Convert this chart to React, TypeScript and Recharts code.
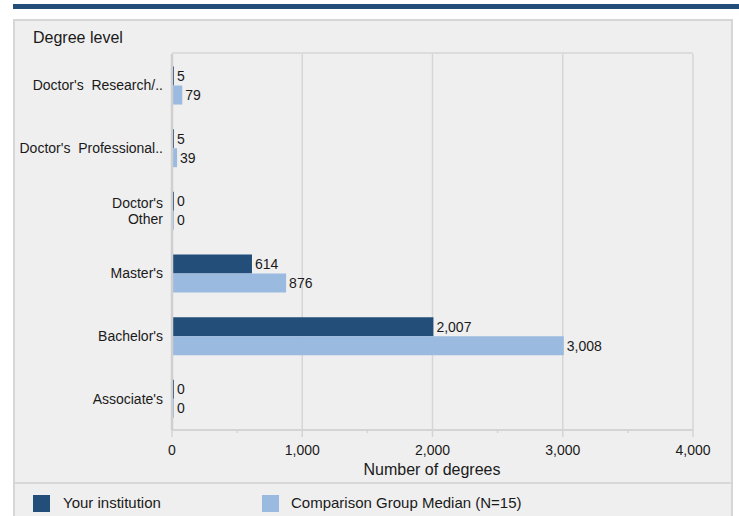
import React from "react";
import { BarChart, Bar, XAxis, YAxis, CartesianGrid, LabelList } from "recharts";

const categories = [
  "Doctor's  Research/..",
  "Doctor's  Professional..",
  "Doctor's\nOther",
  "Master's",
  "Bachelor's",
  "Associate's",
];
const yourInstitution = [5, 5, 0, 614, 2007, 0];
const comparisonMedian = [79, 39, 0, 876, 3008, 0];
const xTicks = [0, 500, 1000, 1500, 2000, 2500, 3000, 3500, 4000];
const majorTicks = [0, 1000, 2000, 3000, 4000];

const data = categories.map((c, i) => ({
  name: c,
  yours: yourInstitution[i],
  comp: comparisonMedian[i],
}));

const DARK = "#234e7a";
const LIGHT = "#9bbadf";
const FONT = "'Liberation Sans', Arial, sans-serif";
const TEXT = "#1a1a1a";

const fmt = (v: any) => Number(v).toLocaleString("en-US");

const YTick = (props: any) => {
  const { x, y, payload } = props;
  const lines = String(payload.value).split("\n");
  const lh = 16;
  const start = -((lines.length - 1) * lh) / 2;
  return (
    <text x={x - 9} y={y} textAnchor="end" fontSize={14} fill={TEXT} fontFamily={FONT} style={{ whiteSpace: "pre" }}>
      {lines.map((l, i) => (
        <tspan key={i} x={x - 9} y={y + start + i * lh} dy="0.35em">
          {l}
        </tspan>
      ))}
    </text>
  );
};

const XTick = (props: any) => {
  const { x, y, payload } = props;
  const major = payload.value % 1000 === 0;
  return (
    <g>
      <line x1={x} x2={x} y1={y} y2={y + (major ? 7 : 3)} stroke="#d4d4d4" strokeWidth={1.5} />
      {major && (
        <text x={x} y={y + 20} dy="0.35em" textAnchor="middle" fontSize={14} fill={TEXT} fontFamily={FONT}>
          {fmt(payload.value)}
        </text>
      )}
    </g>
  );
};

export default function App() {
  return (
    <div style={{ position: "fixed", left: 0, top: 0, width: 739, height: 516, background: "#fff", overflow: "hidden", fontFamily: FONT }}>
      <div style={{ position: "absolute", left: 13, top: 4, width: 726, height: 5, background: DARK }} />
      <div
        style={{
          position: "absolute",
          left: 13,
          top: 19,
          width: 716,
          height: 520,
          background: "#efefef",
          borderLeft: "2px solid #d6d6d6",
          borderTop: "2px solid #d6d6d6",
          borderRight: "2px solid #d6d6d6",
        }}
      />
      <div style={{ position: "absolute", left: 33, top: 28, fontSize: 16, color: TEXT, lineHeight: "20px" }}>Degree level</div>
      <div style={{ position: "absolute", left: 15, top: 482, width: 716, height: 2, background: "#d8d8d8" }} />
      <div style={{ position: "absolute", left: 33, top: 495, width: 17, height: 17, background: DARK }} />
      <div style={{ position: "absolute", left: 63, top: 494, fontSize: 15, color: TEXT, lineHeight: "18px" }}>Your institution</div>
      <div style={{ position: "absolute", left: 262, top: 495, width: 17, height: 17, background: LIGHT }} />
      <div style={{ position: "absolute", left: 291, top: 494, fontSize: 15, color: TEXT, lineHeight: "18px" }}>Comparison Group Median (N=15)</div>
      <div style={{ position: "absolute", left: 332, top: 460, width: 200, textAlign: "center", fontSize: 16, color: TEXT, lineHeight: "20px" }}>
        Number of degrees
      </div>
      <div style={{ position: "absolute", left: 0, top: 0 }}>
        <BarChart
          width={739}
          height={516}
          data={data}
          layout="vertical"
          margin={{ top: 54, right: 46, bottom: 46, left: 0 }}
          barCategoryGap="20%"
          barGap={0}
        >
          <CartesianGrid
            vertical={true}
            horizontal={true}
            verticalValues={majorTicks}
            horizontalPoints={[53]}
            stroke="#d6d6d6"
            strokeWidth={1.5}
          />
          <XAxis
            type="number"
            domain={[0, 4000]}
            ticks={xTicks}
            interval={0}
            height={40}
            tickSize={0}
            tickMargin={0}
            tickLine={false}
            axisLine={{ stroke: "#d4d4d4", strokeWidth: 2 }}
            tick={<XTick />}
          />
          <YAxis
            type="category"
            dataKey="name"
            width={172}
            tickLine={false}
            tickSize={0}
            tickMargin={0}
            axisLine={{ stroke: "#cfcfcf", strokeWidth: 2.5 }}
            tick={<YTick />}
            interval={0}
          />
          <Bar dataKey="yours" fill={DARK} isAnimationActive={false} minPointSize={2}>
            <LabelList dataKey="yours" position="right" offset={3} formatter={fmt} fontSize={14} fill={TEXT} fontFamily={FONT} />
          </Bar>
          <Bar dataKey="comp" fill={LIGHT} isAnimationActive={false} minPointSize={2}>
            <LabelList dataKey="comp" position="right" offset={3} formatter={fmt} fontSize={14} fill={TEXT} fontFamily={FONT} />
          </Bar>
        </BarChart>
      </div>
    </div>
  );
}
